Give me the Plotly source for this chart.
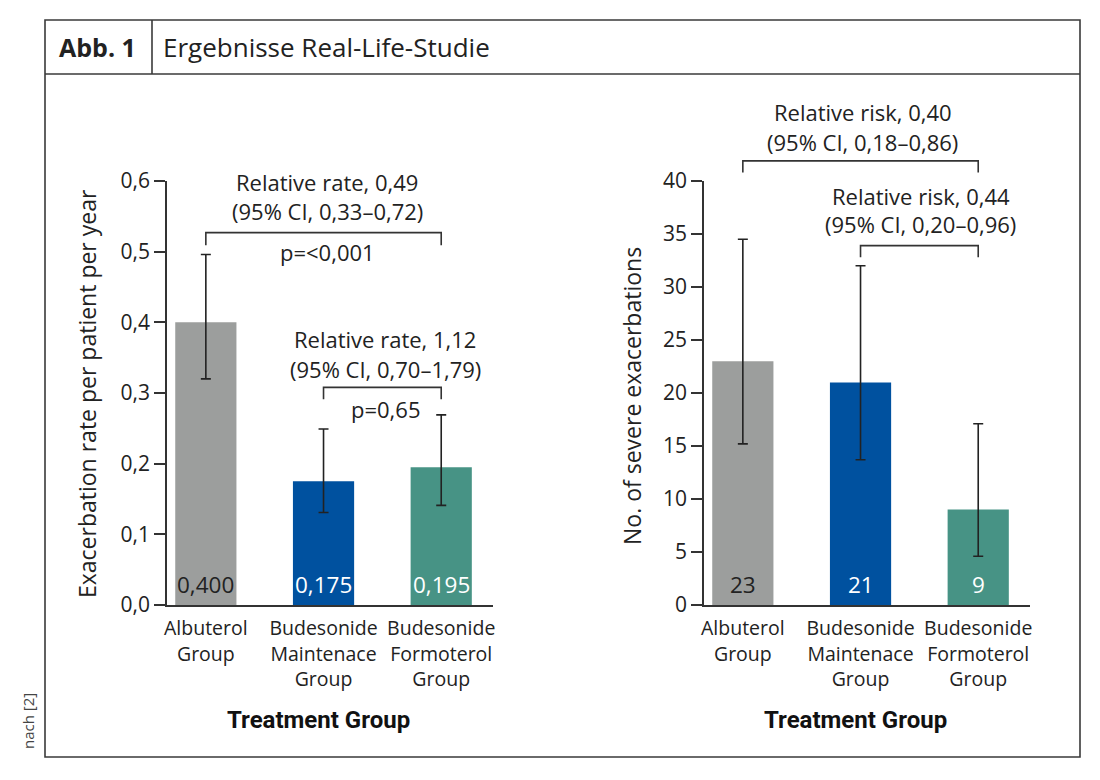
import plotly.graph_objects as go

# ---------------- data ----------------
groups = ["Albuterol<br>Group", "Budesonide<br>Maintenace<br>Group", "Budesonide<br>Formoterol<br>Group"]
colors = ["#9c9e9d", "#00519f", "#479385"]
label_colors = ["#222222", "#ffffff", "#ffffff"]

rate = [0.400, 0.175, 0.195]
rate_hi = [0.496, 0.249, 0.269]
rate_lo = [0.320, 0.131, 0.141]

count = [23, 21, 9]
count_hi = [34.5, 32.0, 17.1]
count_lo = [15.2, 13.7, 4.6]

y1_ticks = [0.0, 0.1, 0.2, 0.3, 0.4, 0.5, 0.6]
y2_ticks = [0, 5, 10, 15, 20, 25, 30, 35, 40]

# comparisons: (from group, to group, text lines, p text)
rate_brackets = [
    (0, 2, "Relative rate, 0,49", "(95% CI, 0,33–0,72)", "p=<0,001"),
    (1, 2, "Relative rate, 1,12", "(95% CI, 0,70–1,79)", "p=0,65"),
]
count_brackets = [
    (0, 2, "Relative risk, 0,40", "(95% CI, 0,18–0,86)", None),
    (1, 2, "Relative risk, 0,44", "(95% CI, 0,20–0,96)", None),
]

# ---------------- layout helpers ----------------
W, H = 1100, 780
OFF = 8  # page body margin
def px(x):
    return (x - OFF) / W
def py(y):
    return 1 - (y - OFF) / H

XR = [-0.33, 2.44]
dom_x1 = [px(167), px(493)]
dom_x2 = [px(704), px(1030)]
dom_y = [py(605), py(181)]
YR1 = [0, 0.6]
YR2 = [0, 40]

def to_paper(xv, yv, domx, yr):
    fx = domx[0] + (xv - XR[0]) / (XR[1] - XR[0]) * (domx[1] - domx[0])
    fy = dom_y[0] + (yv - yr[0]) / (yr[1] - yr[0]) * (dom_y[1] - dom_y[0])
    return fx, fy

MAIN_FONT = "Open Sans"
TXT = "#222222"

fig = go.Figure()

fig.add_trace(go.Bar(
    x=groups, y=rate, marker=dict(color=colors, line=dict(width=0)), width=0.52,
    error_y=dict(type="data", symmetric=False,
                 array=[h - v for h, v in zip(rate_hi, rate)],
                 arrayminus=[v - l for v, l in zip(rate, rate_lo)],
                 color="#222222", thickness=1.6, width=5),
    xaxis="x", yaxis="y", showlegend=False, hoverinfo="skip"))

fig.add_trace(go.Bar(
    x=groups, y=count, marker=dict(color=colors, line=dict(width=0)), width=0.52,
    error_y=dict(type="data", symmetric=False,
                 array=[h - v for h, v in zip(count_hi, count)],
                 arrayminus=[v - l for v, l in zip(count, count_lo)],
                 color="#222222", thickness=1.6, width=5),
    xaxis="x2", yaxis="y2", showlegend=False, hoverinfo="skip"))

axis_common = dict(showline=True, linecolor="#333333", linewidth=1.5,
                   showgrid=False, zeroline=False, automargin=False)

fig.update_layout(
    width=W, height=H, autosize=False,
    margin=dict(l=0, r=0, t=0, b=0, pad=0, autoexpand=False),
    paper_bgcolor="white", plot_bgcolor="white",
    separators=",.",
    showlegend=False,
    font=dict(family=MAIN_FONT, color=TXT, size=20),
    xaxis=dict(domain=dom_x1, range=XR, type="category", ticks="", ticklabelstandoff=5,
               tickfont=dict(family=MAIN_FONT, size=19.5, color=TXT), **axis_common),
    xaxis2=dict(domain=dom_x2, range=XR, type="category", ticks="", anchor="y2", ticklabelstandoff=5,
                tickfont=dict(family=MAIN_FONT, size=19.5, color=TXT), **axis_common),
    yaxis=dict(domain=dom_y, range=YR1, tickvals=y1_ticks, tickformat=".1f",
               ticks="outside", ticklen=11, tickwidth=1.5, tickcolor="#333333",
               tickfont=dict(size=21, color=TXT), **axis_common),
    yaxis2=dict(domain=dom_y, range=YR2, tickvals=y2_ticks, tickformat="d", anchor="x2",
                ticks="outside", ticklen=11, tickwidth=1.5, tickcolor="#333333",
                tickfont=dict(size=21, color=TXT), **axis_common),
)

shapes = []
annotations = []
BORDER = dict(color="#3a3a3a", width=1.6)
# frame and header
shapes.append(dict(type="rect", xref="paper", yref="paper", x0=px(45), x1=px(1080),
                   y0=py(757), y1=py(20), line=BORDER))
shapes.append(dict(type="line", xref="paper", yref="paper", x0=px(45), x1=px(1080),
                   y0=py(74), y1=py(74), line=BORDER))
shapes.append(dict(type="line", xref="paper", yref="paper", x0=px(152), x1=px(152),
                   y0=py(20), y1=py(74), line=BORDER))

annotations.append(dict(text="<b>Abb. 1</b>", xref="paper", yref="paper", x=px(97), y=py(47),
                        showarrow=False, font=dict(size=25, color=TXT), xanchor="center", yanchor="middle"))
annotations.append(dict(text="Ergebnisse Real-Life-Studie", xref="paper", yref="paper", x=px(161), y=py(47),
                        showarrow=False, font=dict(size=26, color=TXT), xanchor="left", yanchor="middle"))
annotations.append(dict(text="nach [2]", xref="paper", yref="paper", x=px(28), y=py(721),
                        showarrow=False, textangle=-90, font=dict(size=15, color="#444444"),
                        xanchor="center", yanchor="middle"))

# axis titles
annotations.append(dict(text="Exacerbation rate per patient per year", xref="paper", yref="paper",
                        x=px(87), y=py(394), showarrow=False, textangle=-90,
                        font=dict(size=23, color=TXT), xanchor="center", yanchor="middle"))
annotations.append(dict(text="No. of severe exacerbations", xref="paper", yref="paper",
                        x=px(632), y=py(396), showarrow=False, textangle=-90,
                        font=dict(size=23, color=TXT), xanchor="center", yanchor="middle"))
for cx in [px(318), px(855)]:
    annotations.append(dict(text="<b>Treatment Group</b>", xref="paper", yref="paper",
                            x=cx, y=py(720), showarrow=False,
                            font=dict(family="Roboto", size=24, color="#111111"),
                            xanchor="center", yanchor="middle"))

# value labels inside bars
for i, g in enumerate(groups):
    annotations.append(dict(text=f"{rate[i]:.3f}".replace(".", ","), x=g, y=0, xref="x", yref="y",
                            showarrow=False, yanchor="bottom", yshift=3,
                            font=dict(size=22.5, color=label_colors[i])))
    annotations.append(dict(text=f"{count[i]:d}", x=g, y=0, xref="x2", yref="y2",
                            showarrow=False, yanchor="bottom", yshift=3,
                            font=dict(size=22.5, color=label_colors[i])))

def bracket(i0, i1, level, leg, domx, yr):
    xa, ya = to_paper(i0, level, domx, yr)
    xb, yb = to_paper(i1, level, domx, yr)
    _, yl = to_paper(i0, leg, domx, yr)
    path = f"M {xa},{yl} L {xa},{ya} L {xb},{ya} L {xb},{yl}"
    return dict(type="path", xref="paper", yref="paper", path=path,
                line=dict(color="#333333", width=1.6))

def txt(s, xv, yv, domx, yr):
    fx, fy = to_paper(xv, yv, domx, yr)
    return dict(text=s, xref="paper", yref="paper", x=fx, y=fy, showarrow=False,
                xanchor="center", yanchor="middle", font=dict(size=22, color=TXT))

# left brackets
rate_levels = [(0.527, 0.509, 1.03, 0.599, 0.557, 0.499), (0.308, 0.291, 1.525, 0.376, 0.334, 0.278)]
for (i0, i1, t1, t2, pt), (lev, leg, tx, ty1, ty2, tp) in zip(rate_brackets, rate_levels):
    shapes.append(bracket(i0, i1, lev, leg, dom_x1, YR1))
    annotations.append(txt(t1, tx, ty1, dom_x1, YR1))
    annotations.append(txt(t2, tx, ty2, dom_x1, YR1))
    if pt:
        annotations.append(txt(pt, tx, tp, dom_x1, YR1))

# right brackets
count_levels = [(41.9, 40.8, 1.02, 46.5, 43.7), (33.9, 32.8, 1.51, 38.6, 35.9)]
for (i0, i1, t1, t2, pt), (lev, leg, tx, ty1, ty2) in zip(count_brackets, count_levels):
    shapes.append(bracket(i0, i1, lev, leg, dom_x2, YR2))
    annotations.append(txt(t1, tx, ty1, dom_x2, YR2))
    annotations.append(txt(t2, tx, ty2, dom_x2, YR2))

fig.update_layout(shapes=shapes, annotations=annotations)
fig.write_html("out.html")
